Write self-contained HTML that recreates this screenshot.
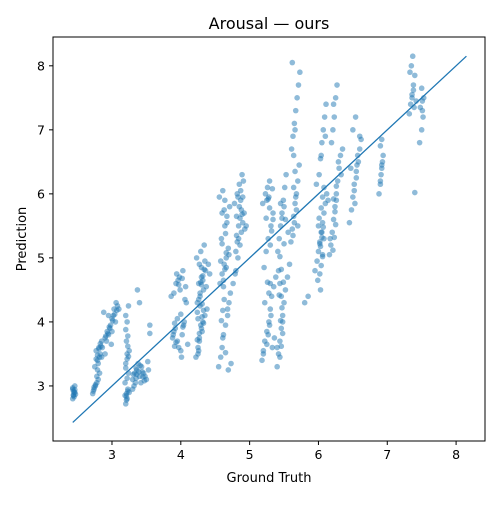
<!DOCTYPE html>
<html><head><meta charset="utf-8"><style>
body{margin:0;background:#fff;}
svg text{font-family:"DejaVu Sans","Liberation Sans",sans-serif;fill:#000;}
</style></head><body>
<svg id="chart" width="500" height="500" viewBox="0 0 500 500" xmlns="http://www.w3.org/2000/svg">
<rect width="500" height="500" fill="#fff"/>
<g id="points"></g>
<g id="axes"></g>
</svg>
<script>
const xTicks = [3, 4, 5, 6, 7, 8];
const yTicks = [3, 4, 5, 6, 7, 8];
const fitLine = [2.43, 8.15];
const truth = [
2.43,2.44,2.45,2.43,2.46,2.47,2.44,2.45,2.43,2.46,
2.72,2.74,2.76,2.78,2.8,2.82,2.75,2.79,2.83,2.77,2.81,2.73,2.85,2.78,2.8,2.76,2.82,2.84,2.79,2.74,
2.86,2.9,2.93,2.95,2.98,3.0,3.02,3.05,2.88,2.92,2.97,3.03,3.08,2.9,2.95,3.0,3.06,3.1,2.85,2.99,
3.2,3.22,3.21,3.23,3.19,3.24,3.2,3.22,3.25,3.21,3.23,3.2,3.22,3.24,3.21,3.19,3.23,3.2,3.25,3.22,
3.3,3.33,3.36,3.4,3.43,3.46,3.5,3.53,3.32,3.38,3.42,3.48,3.35,3.44,3.52,3.3,3.4,3.37,3.55,3.47,3.35,3.55,
3.88,3.9,3.92,3.95,3.97,4.0,4.02,4.05,4.08,3.9,3.93,3.98,4.03,4.07,3.86,3.96,4.01,4.1,3.94,4.04,3.89,3.99,4.06,3.91,
4.22,4.25,4.27,4.3,4.32,4.35,4.38,4.24,4.28,4.33,4.26,4.3,4.36,4.4,4.23,4.29,4.34,4.31,4.27,4.25,4.37,4.42,4.28,4.32,4.26,4.3,4.35,4.24,
4.55,4.58,4.6,4.62,4.65,4.68,4.7,4.72,4.57,4.6,4.63,4.66,4.69,4.59,4.64,4.67,4.71,4.56,4.61,4.73,4.68,4.62,4.66,4.7,4.6,4.64,4.58,4.69,
4.76,4.8,4.83,4.86,4.88,4.9,4.92,4.78,4.82,4.85,4.89,4.93,4.81,4.87,4.91,4.79,4.84,4.88,4.9,4.95,
5.18,5.2,5.22,5.25,5.28,5.3,5.32,5.35,5.38,5.21,5.24,5.27,5.31,5.34,5.19,5.23,5.26,5.29,5.33,5.36,5.22,5.3,5.25,5.28,5.34,5.2,
5.4,5.42,5.44,5.46,5.48,5.5,5.52,5.55,5.58,5.41,5.43,5.45,5.47,5.49,5.51,5.53,5.56,5.44,5.46,5.5,5.4,5.48,5.42,5.52,
5.6,5.62,5.64,5.66,5.68,5.7,5.72,5.61,5.63,5.65,5.67,5.69,5.71,5.73,5.62,5.66,5.7,5.64,5.68,
5.95,5.98,6.0,6.02,6.04,6.06,6.08,6.1,6.12,5.97,6.01,6.03,6.05,6.07,6.09,6.11,5.99,6.03,6.06,6.14,6.0,6.08,6.04,6.1,5.85,5.8,
6.16,6.18,6.2,6.22,6.24,6.26,6.28,6.3,6.32,6.19,6.21,6.23,6.25,6.27,6.17,6.29,6.33,6.22,6.26,6.35,
6.45,6.48,6.5,6.52,6.55,6.58,6.6,6.62,6.5,6.54,6.57,6.47,6.6,6.53,
6.88,6.9,6.92,6.94,6.9,6.92,6.93,6.91,
7.32,7.34,7.36,7.38,7.4,7.35,7.37,7.33,7.39,7.42,7.4,
7.47,7.5,7.52,7.48,7.53,7.5,7.51,
2.44,2.46,2.79,2.81,2.77,2.83,2.96,3.01,2.94,3.04,2.91,3.07,3.21,3.23,3.22,3.2,3.24,3.31,3.34,3.39,3.45,3.41,3.36,
3.91,3.95,4.0,4.03,3.93,3.97,4.02,
4.24,4.27,4.29,4.31,4.33,4.26,4.28,4.3,4.32,4.34,4.25,4.29,4.31,4.27,4.33,
4.59,4.61,4.63,4.62,4.64,4.66,4.6,4.65,4.67,4.63,4.61,4.65,
4.8,4.82,4.84,4.86,4.85,4.83,4.87,4.81,4.89,
5.25,5.27,5.29,5.31,5.28,5.26,5.3,5.32,5.24,5.29,5.27,5.33,
5.44,5.46,5.48,5.45,5.47,5.43,5.49,5.46,5.44,5.5,5.47,5.45,
5.63,5.65,5.67,5.64,5.66,
6.02,6.04,6.06,6.03,6.05,6.07,6.01,6.04,6.06,6.08,6.02,6.05,
6.21,6.23,6.25,6.24,6.22,6.26,
6.52,6.55,6.56,6.9,6.92,7.36,7.38,7.51
];
const pred = [
2.8,2.85,2.9,2.95,3.0,2.87,2.92,2.83,2.97,2.9,
2.88,2.95,3.0,3.05,3.1,3.2,3.3,3.4,3.5,3.55,3.6,2.92,3.7,3.15,3.35,3.02,3.45,3.62,3.25,2.98,
3.6,3.75,3.85,3.8,3.95,4.05,4.1,4.0,4.15,3.7,3.9,4.2,4.25,3.5,4.1,3.85,4.3,4.2,3.45,3.65,
2.72,2.8,2.88,2.95,3.05,3.2,3.35,3.5,3.55,3.7,3.78,3.88,4.0,4.25,2.78,2.85,3.62,4.1,2.9,3.42,
3.1,3.2,3.25,3.15,3.3,3.2,3.1,3.25,3.0,3.35,3.05,3.15,3.28,3.22,3.38,2.95,4.3,4.5,3.95,3.08,3.12,3.82,
3.75,3.85,3.9,3.7,3.6,3.55,3.8,4.0,4.3,4.45,4.6,4.7,4.8,4.55,4.4,4.65,3.45,3.65,4.75,3.95,3.8,4.5,4.35,3.62,
3.45,3.6,3.75,3.9,4.0,4.1,4.2,4.3,4.4,4.5,4.6,4.7,4.8,4.9,5.0,5.1,5.2,3.85,3.7,4.05,4.55,4.75,4.25,4.65,3.55,4.85,4.95,4.15,
3.3,3.45,3.6,3.8,3.95,4.1,4.3,4.45,4.6,4.75,4.9,5.0,5.15,5.3,5.5,5.65,5.8,5.95,6.05,3.35,4.2,4.55,4.85,5.05,5.7,5.9,4.95,3.25,
4.6,4.8,5.0,5.2,5.4,5.55,5.7,5.85,6.0,6.15,6.3,5.45,5.65,5.9,6.2,4.75,5.3,5.75,5.95,5.5,
3.4,3.55,3.7,3.85,4.0,4.2,4.4,4.55,4.7,4.85,5.1,5.3,5.5,5.7,5.85,6.0,6.1,6.2,3.6,3.75,4.3,4.6,5.9,5.95,5.6,3.5,
3.3,3.5,3.7,3.9,4.1,4.3,4.5,4.7,4.9,5.1,5.3,5.5,5.7,5.9,6.1,6.3,5.4,4.6,4.4,5.8,3.6,4.0,4.8,5.6,
5.25,5.45,5.65,5.85,6.0,6.2,6.45,6.7,6.9,7.1,7.3,7.5,7.7,7.9,8.05,7.0,5.5,6.6,5.75,
4.8,4.95,5.1,5.25,5.4,5.55,5.7,5.85,6.0,6.15,6.3,6.55,6.8,7.0,7.2,7.4,4.65,4.5,5.05,5.9,5.5,5.3,6.6,6.9,4.4,4.3,
5.05,5.2,5.4,5.6,5.8,6.0,6.2,6.4,6.6,6.8,7.0,7.2,7.5,7.7,5.3,6.5,6.3,7.4,5.9,6.7,
5.55,5.75,5.95,6.15,6.35,6.5,6.7,6.85,7.0,7.2,6.6,6.4,6.9,5.85,
6.0,6.2,6.4,6.6,6.75,6.85,6.5,6.3,
7.25,7.4,7.55,7.7,7.85,8.0,8.15,7.9,7.35,7.45,6.02,
6.8,7.0,7.2,7.35,7.5,7.65,7.3,
2.86,2.94,3.48,3.58,3.42,3.66,3.92,4.02,3.82,4.12,3.78,4.18,2.84,2.92,3.12,3.28,3.46,3.18,3.05,3.22,3.14,3.32,3.18,
3.98,4.05,4.12,3.92,3.68,4.58,4.68,
3.72,3.82,3.95,4.08,4.18,4.35,4.45,4.58,4.72,4.82,3.5,4.62,4.28,4.9,3.98,
4.02,4.18,4.35,4.65,4.82,5.08,5.22,5.38,5.55,5.75,3.75,3.52,
5.1,5.25,5.5,5.62,5.8,5.95,6.05,5.35,5.68,
3.65,3.8,3.95,4.1,4.45,4.62,5.2,5.42,5.62,5.78,5.92,6.08,
3.45,3.62,3.82,4.02,4.22,4.42,4.62,4.82,5.02,5.22,5.62,5.85,
5.35,5.55,5.95,6.1,6.35,
4.75,4.88,5.02,5.18,5.32,5.48,5.62,5.78,5.95,6.1,5.22,5.4,
5.12,5.32,5.52,5.72,5.92,6.12,
6.05,6.25,6.45,6.15,6.45,7.5,7.62,7.45
];

const L=53,R=485,T=37,B=441;
const xMin=2.143,xMax=8.42,yMin=2.14,yMax=8.45;
const sx=v=>L+(v-xMin)/(xMax-xMin)*(R-L);
const sy=v=>B-(v-yMin)/(yMax-yMin)*(B-T);
const NS="http://www.w3.org/2000/svg";
function mk(tag,attrs,parent){const e=document.createElementNS(NS,tag);for(const k in attrs)e.setAttribute(k,attrs[k]);parent.appendChild(e);return e;}
const pts=document.getElementById('points');
for(let i=0;i<truth.length;i++){
  const c=mk('circle',{cx:sx(truth[i]),cy:sy(pred[i]),r:2.8,fill:'#1f77b4','fill-opacity':0.5},pts);
  
  
}
const ax=document.getElementById('axes');
const ln=mk('line',{x1:sx(fitLine[0]),y1:sy(fitLine[0]),x2:sx(fitLine[1]),y2:sy(fitLine[1]),stroke:'#1f77b4','stroke-width':1.3},ax);


const fr=mk('rect',{x:L,y:T,width:R-L,height:B-T,fill:'none',stroke:'#000','stroke-width':1},ax);


xTicks.forEach(v=>{
  const x=sx(v);
  mk('line',{x1:x,y1:B,x2:x,y2:B+4,stroke:'#000'},ax);
  const t=mk('text',{x:x,y:B+18,'text-anchor':'middle','font-size':12.5},ax);
  t.textContent=v;
  
  
});
yTicks.forEach(v=>{
  const y=sy(v);
  mk('line',{x1:L-4,y1:y,x2:L,y2:y,stroke:'#000'},ax);
  const t=mk('text',{x:L-8,y:y+4.5,'text-anchor':'end','font-size':12.5},ax);
  t.textContent=v;
  
  
});
const xl=mk('text',{x:(L+R)/2,y:482,'text-anchor':'middle','font-size':13},ax);
xl.textContent='Ground Truth';


const yl=mk('text',{x:0,y:0,'text-anchor':'middle','font-size':13,transform:`translate(26,${(T+B)/2}) rotate(-90)`},ax);
yl.textContent='Prediction';


const tt=mk('text',{x:(L+R)/2,y:29,'text-anchor':'middle','font-size':16},ax);
tt.textContent='Arousal — ours';


</script>
</body></html>
